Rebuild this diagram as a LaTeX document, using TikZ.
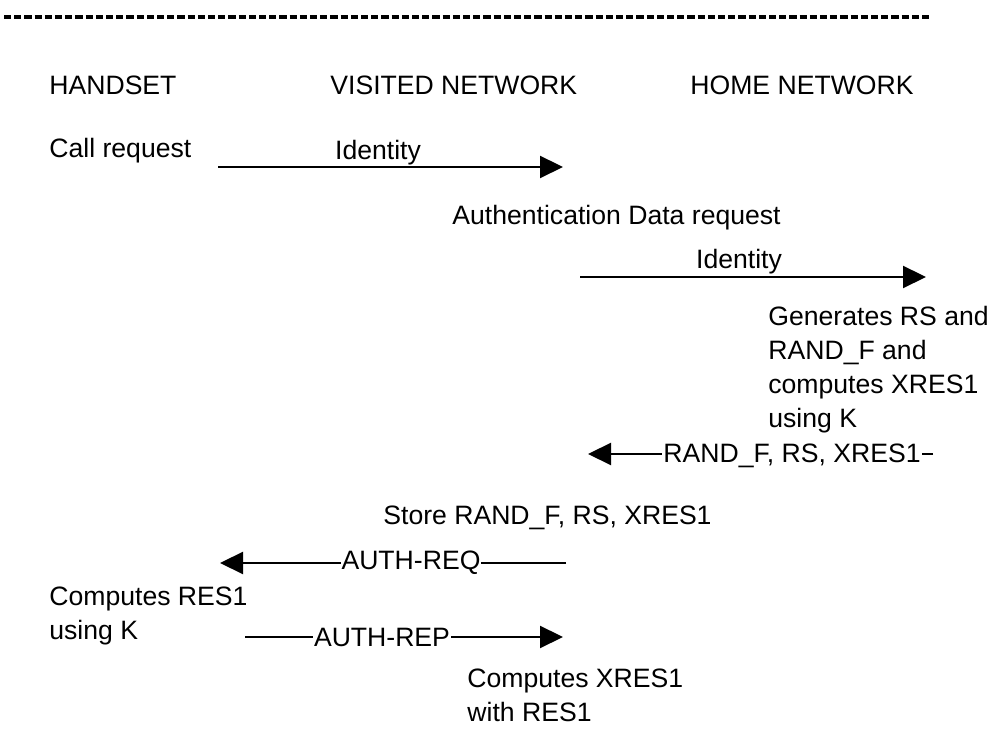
\documentclass[tikz,border=0pt]{standalone}
\usepackage{fontspec}
\setmainfont{Liberation Sans}
\usetikzlibrary{arrows.meta}

\begin{document}
\begin{tikzpicture}[
            x=0.5pt, y=-0.5pt,
            txt/.style={anchor=west, inner sep=0pt, font=\fontsize{13.3}{17}\selectfont, align=left},
            msg/.style={inner sep=0pt, font=\fontsize{13.3}{17}\selectfont},
            onmsg/.style={msg, fill=white, inner xsep=0.5pt},
            line/.style={draw, line width=1.1pt, -{Triangle[length=11.5pt,width=11pt]}}
        ]
        \useasboundingbox (0,0) rectangle (997,731);

        % Separator at the top
        \draw[line width=2.4pt, dash pattern=on 3.6pt off 1.5pt] (4,17) -- (929,17);

        % Column heads
        \node[txt] (handset) at (49,85) {HANDSET};
        \node[txt] (visited) at (330,85) {VISITED NETWORK};
        \node[txt] (home) at (690,85) {HOME NETWORK};

        % Handset asks
        \node[txt] (call) at (49,151) {Call request};
        \coordinate (id1_a) at (218,167);
        \coordinate (id1_b) at (563,167);
        \draw[line] (id1_a) -- (id1_b);
        \node[msg] (id1) at (378,153) {Identity};

        % Visited network asks home network
        \node[txt] (authreq) at (452,218) {Authentication Data request};
        \coordinate (id2_a) at (580,277);
        \coordinate (id2_b) at (926,277);
        \draw[line] (id2_a) -- (id2_b);
        \node[msg] (id2) at (739,262) {Identity};

        \node[txt, anchor=north west] (gen) at (768,306) {Generates RS and\\RAND\_F and\\computes XRES1\\using K};

        % Home network answers
        \coordinate (vec_a) at (933,454);
        \coordinate (vec_b) at (588,454);
        \draw[line] (vec_a) -- (vec_b);
        \node[onmsg, anchor=west] (vec) at (662,456) {RAND\_F, RS, XRES1};

        \node[txt] (store) at (383,518) {Store RAND\_F, RS, XRES1};

        % Challenge
        \coordinate (req_a) at (566,563);
        \coordinate (req_b) at (220,563);
        \draw[line] (req_a) -- (req_b);
        \node[onmsg] (req) at (411,563) {AUTH-REQ};

        \node[txt, anchor=north west] (res) at (49,587) {Computes RES1\\using K};

        % Response
        \coordinate (rep_a) at (245,637);
        \coordinate (rep_b) at (563,637);
        \draw[line] (rep_a) -- (rep_b);
        \node[onmsg] (rep) at (382,637) {AUTH-REP};

        \node[txt, anchor=north west] (check) at (467,669) {Computes XRES1\\with RES1};

    \end{tikzpicture}
\end{document}
